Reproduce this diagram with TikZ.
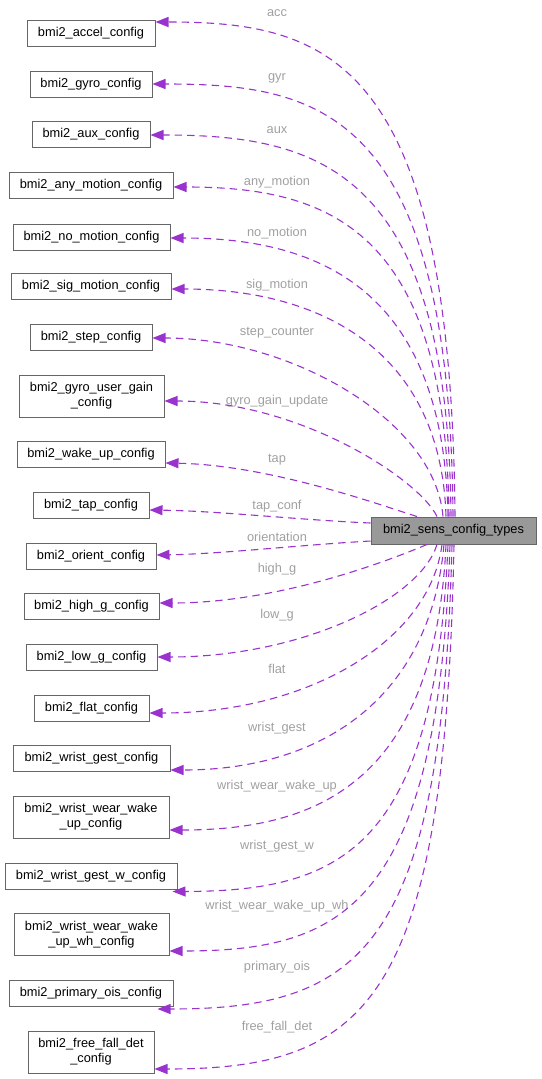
\documentclass[tikz,border=0pt]{standalone}
\usepackage{fontspec}
\setmainfont{Liberation Sans}
\usetikzlibrary{arrows.meta}
\definecolor{edgec}{HTML}{9A32CD}
\definecolor{labc}{HTML}{A0A0A0}
\definecolor{boxc}{HTML}{666666}
\definecolor{mainfill}{HTML}{999999}
\begin{document}
\begin{tikzpicture}[x=1pt,y=-1pt,
  box/.style={draw=boxc,line width=1pt,fill=white,inner sep=0pt,align=center,
    font=\fontsize{12.8}{15}\selectfont,minimum height=26pt},
  box2/.style={box,minimum height=42pt},
  mainbox/.style={box,fill=mainfill,minimum height=27pt},
  lab/.style={text=labc,inner sep=0pt,font=\fontsize{12.8}{15}\selectfont},
  edge/.style={draw=edgec,line width=1.1pt,dash pattern=on 7.5pt off 5pt,
    -{Triangle[length=13pt,width=10pt]}}]
\useasboundingbox (0,0) rectangle (541,1079);

\node[mainbox,minimum width=165pt] (main) at (453.5,530.5) {bmi2\_sens\_config\_types};

\node[box,minimum width=128pt] (n1) at (91,33) {bmi2\_accel\_config};
\node[box,minimum width=122pt] (n2) at (91,84) {bmi2\_gyro\_config};
\node[box,minimum width=118pt] (n3) at (91,134) {bmi2\_aux\_config};
\node[box,minimum width=164pt] (n4) at (91,185) {bmi2\_any\_motion\_config};
\node[box,minimum width=157pt] (n5) at (91.5,237) {bmi2\_no\_motion\_config};
\node[box,minimum width=160pt] (n6) at (91,286) {bmi2\_sig\_motion\_config};
\node[box,minimum width=122pt] (n7) at (91,337) {bmi2\_step\_config};
\node[box2,minimum width=145pt] (n8) at (91.5,396) {bmi2\_gyro\_user\_gain\\\_config};
\node[box,minimum width=148pt] (n9) at (91,454) {bmi2\_wake\_up\_config};
\node[box,minimum width=116pt] (n10) at (91,505) {bmi2\_tap\_config};
\node[box,minimum width=130pt] (n11) at (91,556) {bmi2\_orient\_config};
\node[box,minimum width=135pt] (n12) at (91.5,606) {bmi2\_high\_g\_config};
\node[box,minimum width=131pt] (n13) at (91.5,657) {bmi2\_low\_g\_config};
\node[box,minimum width=115pt] (n14) at (91.5,708) {bmi2\_flat\_config};
\node[box,minimum width=157pt] (n15) at (91.5,758) {bmi2\_wrist\_gest\_config};
\node[box2,minimum width=156pt] (n16) at (91,817) {bmi2\_wrist\_wear\_wake\\\_up\_config};
\node[box,minimum width=172pt] (n17) at (91,876) {bmi2\_wrist\_gest\_w\_config};
\node[box2,minimum width=155pt] (n18) at (91.5,934.5) {bmi2\_wrist\_wear\_wake\\\_up\_wh\_config};
\node[box,minimum width=164pt] (n19) at (91,993.5) {bmi2\_primary\_ois\_config};
\node[box2,minimum width=126pt] (n20) at (91,1052) {bmi2\_free\_fall\_det\\\_config};

\node[lab] (l1) at (277,13) {acc};
\node[lab] (l2) at (277,78) {gyr};
\node[lab] (l3) at (277,130) {aux};
\node[lab] (l4) at (277,182) {any\_motion};
\node[lab] (l5) at (277,233) {no\_motion};
\node[lab] (l6) at (277,285) {sig\_motion};
\node[lab] (l7) at (277,333) {step\_counter};
\node[lab] (l8) at (277,401) {gyro\_gain\_update};
\node[lab] (l9) at (277,460) {tap};
\node[lab] (l10) at (277,506) {tap\_conf};
\node[lab] (l11) at (277,537) {orientation};
\node[lab] (l12) at (277,569) {high\_g};
\node[lab] (l13) at (277,615) {low\_g};
\node[lab] (l14) at (277,669) {flat};
\node[lab] (l15) at (277,728) {wrist\_gest};
\node[lab] (l16) at (277,786) {wrist\_wear\_wake\_up};
\node[lab] (l17) at (277,846) {wrist\_gest\_w};
\node[lab] (l18) at (277,906) {wrist\_wear\_wake\_up\_wh};
\node[lab] (l19) at (277,967) {primary\_ois};
\node[lab] (l20) at (277,1027) {free\_fall\_det};

\draw[edge] (main.north -| 455,0) .. controls (451,60) and (330,22) .. (n1.east |- 0,22);
\draw[edge] (main.north -| 453,0) .. controls (450,110) and (320,84) .. (n2.east |- 0,84);
\draw[edge] (main.north -| 451,0) .. controls (448,170) and (320,135) .. (n3.east |- 0,135);
\draw[edge] (main.north -| 449,0) .. controls (446,230) and (330,187) .. (n4.east |- 0,187);
\draw[edge] (main.north -| 448,0) .. controls (444,290) and (320,238) .. (n5.east |- 0,238);
\draw[edge] (main.north -| 446,0) .. controls (441,350) and (320,289) .. (n6.east |- 0,289);
\draw[edge] (main.north -| 443,0) .. controls (435,420) and (290,338) .. (n7.east |- 0,338);
\draw[edge] (main.north -| 437,0) .. controls (420,480) and (300,401) .. (n8.east |- 0,401);
\draw[edge] (main.north -| 417,0) .. controls (380,505) and (270,465) .. (n9.east |- 0,463);
\draw[edge] (main.west |- 0,523) .. controls (300,520) and (220,511) .. (n10.east |- 0,510);
\draw[edge] (main.west |- 0,541) .. controls (300,545) and (220,554) .. (n11.east |- 0,555);
\draw[edge] (main.south -| 427,0) .. controls (390,560) and (280,603) .. (n12.east |- 0,603);
\draw[edge] (main.south -| 437,0) .. controls (420,600) and (300,657) .. (n13.east |- 0,657);
\draw[edge] (main.south -| 442,0) .. controls (430,640) and (310,713) .. (n14.east |- 0,713);
\draw[edge] (main.south -| 444,0) .. controls (430,700) and (320,770) .. (n15.east |- 0,770);
\draw[edge] (main.south -| 446,0) .. controls (435,780) and (320,830) .. (n16.east |- 0,830);
\draw[edge] (main.south -| 448,0) .. controls (435,850) and (340,891) .. ([xshift=-5pt,yshift=-2pt]n17.south east);
\draw[edge] (main.south -| 450,0) .. controls (438,910) and (340,951) .. (n18.east |- 0,951);
\draw[edge] (main.south -| 452,0) .. controls (442,950) and (360,1009) .. ([xshift=-16pt,yshift=-2pt]n19.south east);
\draw[edge] (main.south -| 454,0) .. controls (445,1000) and (370,1069) .. (n20.east |- 0,1069);
\end{tikzpicture}
\end{document}
